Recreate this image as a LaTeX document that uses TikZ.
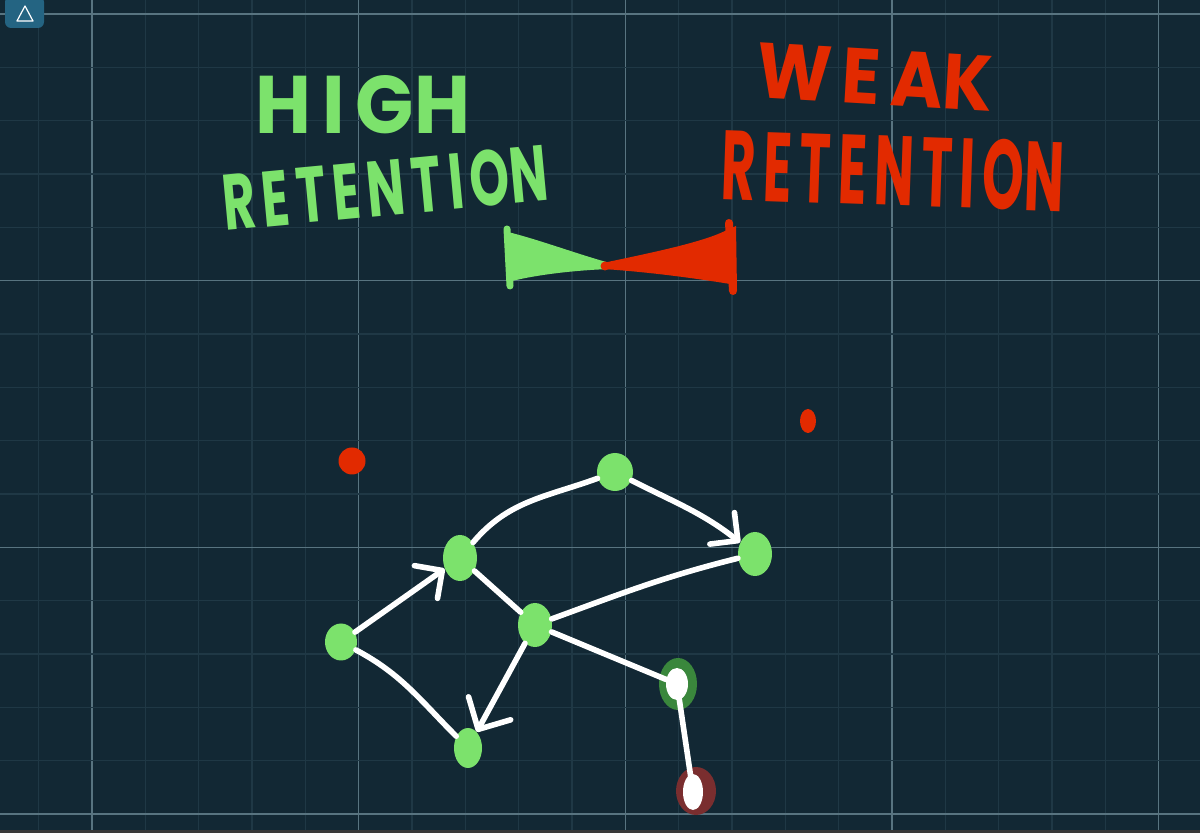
\documentclass[tikz,border=0pt]{standalone}
\usepackage{fontspec}
\setmainfont{Poppins}
\usepackage{graphicx}
\usetikzlibrary{arrows.meta,shapes.geometric}
\definecolor{bgc}{RGB}{18,40,52}
\definecolor{minorc}{RGB}{31,56,69}
\definecolor{majorc}{RGB}{88,116,128}
\definecolor{hgreen}{RGB}{124,226,108}
\definecolor{hred}{RGB}{226,42,0}
\definecolor{ringg}{RGB}{58,135,60}
\definecolor{ringr}{RGB}{122,46,47}
\definecolor{iconc}{RGB}{36,100,130}
\definecolor{barc}{RGB}{58,58,58}
\newcommand{\spaced}[1]{{\addfontfeatures{LetterSpace=14}#1}}
\tikzset{
  minorline/.style={draw=minorc, line width=0.6pt},
  majorline/.style={draw=majorc, line width=0.6pt},
  gnode/.style={ellipse, fill=hgreen, inner sep=0pt},
  wnode/.style={ellipse, fill=white, inner sep=0pt},
  ringnode/.style={ellipse, inner sep=0pt},
  wire/.style={draw=white, line width=2.8pt, line cap=round},
  barb/.style={-{Straight Barb[length=10pt,width=20pt,round]}},
  bigbarb/.style={-{Straight Barb[length=12pt,width=24pt,round]}},
  gtext/.style={text=hgreen, inner sep=0pt, font=\bfseries},
  rtext/.style={text=hred, inner sep=0pt, font=\bfseries},
}
\begin{document}
\begin{tikzpicture}[x=0.5pt,y=0.5pt]
\useasboundingbox (0,0) rectangle (1200,-833);
\fill[bgc] (0,0) rectangle (1200,-833);
% grid
\foreach \i in {0,...,21}{
  \pgfmathtruncatemacro{\m}{mod(\i,5)}
  \ifnum\m=1
    \draw[majorline] ({38.67+53.33*\i},0) -- ({38.67+53.33*\i},-833);
  \else
    \draw[minorline] ({38.67+53.33*\i},0) -- ({38.67+53.33*\i},-833);
  \fi
}
\foreach \j in {0,...,15}{
  \pgfmathtruncatemacro{\m}{mod(\j,5)}
  \ifnum\m=0
    \draw[majorline] (0,{-14-53.33*\j}) -- (1200,{-14-53.33*\j});
  \else
    \draw[minorline] (0,{-14-53.33*\j}) -- (1200,{-14-53.33*\j});
  \fi
}
\fill[barc] (0,-830) rectangle (1200,-833);
% icon
\fill[iconc, rounded corners=3pt] (5,4) rectangle (44,-28);
\draw[white, line width=0.6pt, line join=round] (25,-6) -- (17,-21) -- (33,-21) -- cycle;
% titles
\node[gtext] (high1) at (363,-105) {\resizebox{107pt}{29pt}{\spaced{HIG}H}};
\node[gtext, rotate=5.4] (high2) at (385,-188) {\resizebox{163pt}{28pt}{\spaced{RETENTIO}N}};
\node[rtext, rotate=-3.4] (weak1) at (875,-77) {\resizebox{118pt}{27.5pt}{\spaced{WEA}K}};
\node[rtext, rotate=-2] (weak2) at (893,-171) {\resizebox{171pt}{35pt}{\spaced{RETENTIO}N}};
% bow tie
\fill[hgreen] (508,-232) .. controls (540,-240) and (580,-255) .. (610,-263) -- (610,-269)
  .. controls (580,-270) and (540,-274) .. (512,-281) -- cycle;
\draw[hgreen, line width=3.5pt, line cap=round] (507,-229) -- (510,-286);
\fill[hred] (603,-263) .. controls (650,-253) and (700,-243) .. (725,-231) -- (736,-226)
  -- (737,-290) -- (730,-284) .. controls (700,-279) and (650,-272) .. (603,-269) -- cycle;
\draw[hred, line width=4pt, line cap=round] (729,-223) -- (733,-291);
\fill[hred] (605,-266) circle (4.5);
% red dots
\node[ellipse, fill=hred, inner sep=0pt, minimum width=13.5pt, minimum height=13.5pt] (rd1) at (352,-461) {};
\node[ellipse, fill=hred, inner sep=0pt, minimum width=8pt, minimum height=12pt] (rd2) at (808,-421) {};
% graph nodes
\node[gnode, minimum width=16pt, minimum height=18.5pt] (A) at (341,-642) {};
\node[gnode, minimum width=17pt, minimum height=23pt] (B) at (460,-558) {};
\node[gnode, minimum width=18pt, minimum height=19pt] (C) at (615,-472) {};
\node[gnode, minimum width=17pt, minimum height=22pt] (D) at (755,-554) {};
\node[gnode, minimum width=17pt, minimum height=22pt] (E) at (535,-625) {};
\node[gnode, minimum width=14pt, minimum height=20pt] (F) at (468,-748) {};
\node[ringnode, fill=ringg, minimum width=19pt, minimum height=26pt] (Gring) at (678,-684) {};
\node[wnode, minimum width=11pt, minimum height=16pt] (G) at (677,-684) {};
\node[ringnode, fill=ringr, minimum width=20pt, minimum height=24pt] (Hring) at (696,-791) {};
\node[wnode, minimum width=10pt, minimum height=18pt] (H) at (693,-792) {};
% edges
\draw[wire, barb] (A) -- (B);
\draw[wire] (B) to[out=50, in=200] (C);
\draw[wire, barb] (C) to[out=-27, in=142] (D);
\draw[wire] (B) -- (E);
\draw[wire] (E) to[out=20, in=194] (D);
\draw[wire] (E) -- (G);
\draw[wire, bigbarb] (E) -- (F);
\draw[wire] (A) to[out=-28, in=135] (F);
\draw[wire] (G.center) -- (H.center);
\end{tikzpicture}
\end{document}
